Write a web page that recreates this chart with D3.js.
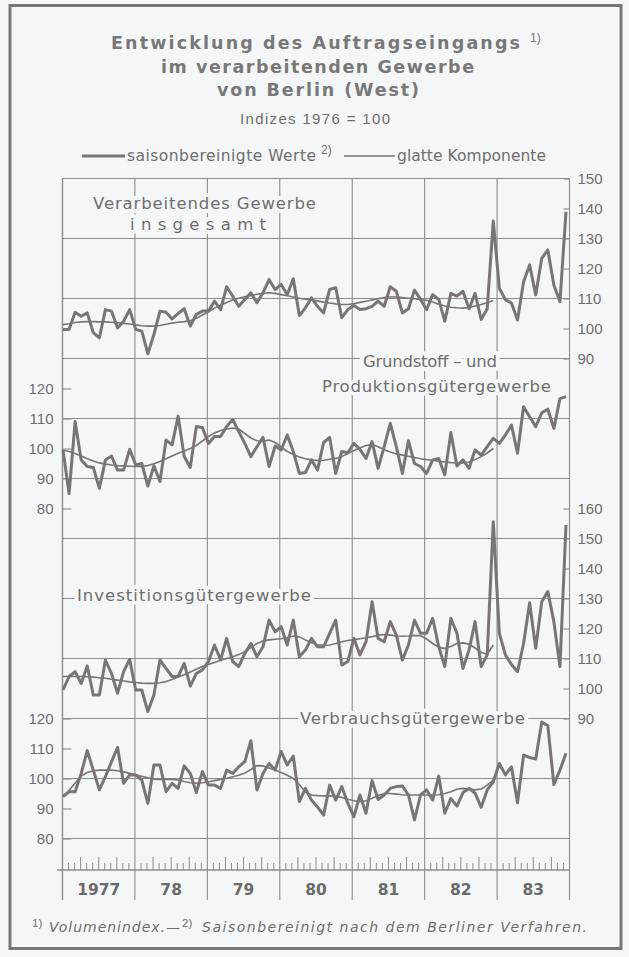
<!DOCTYPE html>
<html><head><meta charset="utf-8">
<script src="https://cdn.jsdelivr.net/npm/d3@7"></script>
<style>body{margin:0;background:#f5f6f7}svg{display:block}</style>
</head><body><svg id="c" width="629" height="957"></svg>
<script>
// ---------- DATA ----------
const years = ["1977","78","79","80","81","82","83"];
const monthIdx = d3.range(years.length * 12);

const ticksGesamt = [150,140,130,120,110,100,90];
const ticksGrund = [120,110,100,90,80];
const ticksInvest = [160,150,140,130,120,110,100,90];
const ticksVerbrauch = [120,110,100,90,80];

const gesamtRaw = [99.7,99.7,105.4,104.1,105.2,98.6,96.9,106.3,105.8,100.2,102.4,106.3,
 99.7,99.1,91.6,98.0,105.8,105.4,103.2,105.0,106.6,100.8,104.7,105.8,
 105.8,109.1,106.3,113.9,110.8,107.4,109.7,111.9,108.6,111.9,116.3,113.0,
 114.7,111.3,116.6,104.3,106.9,110.2,107.4,105.2,113.0,113.6,103.6,106.3,
 107.7,106.3,106.6,107.4,109.1,107.4,113.9,112.4,105.2,106.6,112.8,109.7,
 106.3,111.3,109.7,102.4,111.7,110.8,112.4,106.6,111.7,103.0,106.6,135.8,
 113.4,109.6,108.5,102.8,115.6,121.2,111.2,123.4,126.2,114.5,108.9,138.9];
const gesamtSmooth = [101.3,101.6,102.0,102.2,102.3,102.3,102.2,102.2,102.1,101.9,101.7,101.5,
 101.2,100.9,100.8,100.8,101.0,101.4,101.8,102.1,102.3,102.6,103.4,104.5,
 105.6,106.8,107.8,108.7,109.5,110.1,110.6,111.0,111.4,111.7,111.9,111.7,
 111.3,110.9,110.5,110.1,109.8,109.5,109.2,108.8,108.5,108.2,108.0,108.0,
 108.3,108.7,109.1,109.5,109.9,110.3,110.5,110.5,110.3,110.1,109.9,109.6,
 109.4,108.8,108.1,107.5,107.1,106.9,106.8,107.0,107.5,108.0,108.6,109.3];

const grundRaw = [99.5,85.0,109.0,96.2,94.0,93.7,86.7,96.2,97.5,92.8,92.8,99.7,
 94.5,95.0,87.5,94.2,89.0,102.8,101.2,110.8,97.3,93.7,107.3,107.0,
 101.7,104.0,104.0,107.3,109.7,105.6,101.7,97.3,100.6,103.7,94.0,100.8,
 99.5,104.5,99.0,91.7,92.0,96.2,92.8,102.0,103.7,91.7,99.0,98.6,
 101.7,99.7,96.7,102.3,93.4,100.6,108.4,100.6,91.7,102.6,95.0,94.0,
 91.7,96.2,96.7,91.2,105.3,94.2,96.2,93.4,99.5,97.8,100.6,103.4,
 101.7,104.5,107.8,98.4,113.9,110.6,107.3,111.9,113.1,106.7,116.6,117.3];
const grundSmooth = [99.5,99.0,98.3,97.5,96.6,95.8,95.2,94.8,94.5,94.3,94.2,94.1,
 94.0,94.0,94.3,94.9,95.7,96.6,97.5,98.4,99.2,100.0,101.0,102.5,
 104.0,105.2,106.0,106.5,106.8,106.5,105.0,103.5,102.6,102.5,102.8,102.0,
 100.5,99.0,98.0,97.2,96.6,96.2,96.0,96.1,96.4,96.7,97.3,98.3,
 99.3,100.2,101.0,101.3,100.6,99.6,98.8,98.2,97.8,97.4,97.0,96.6,
 96.3,96.1,95.8,95.5,95.3,95.2,95.2,95.5,96.3,97.3,98.5,100.0];

const investRaw = [99.5,104.0,105.6,101.7,107.5,97.8,97.8,109.5,105.0,98.4,105.6,109.7,
 99.5,99.5,92.3,97.8,109.5,106.7,104.0,104.0,108.4,100.8,105.0,106.2,
 109.0,114.5,109.5,116.7,109.0,107.3,111.7,115.0,110.6,113.9,122.8,118.9,
 120.6,114.5,122.8,110.6,112.8,116.7,113.9,113.9,118.4,122.8,107.8,109.0,
 116.7,111.2,115.6,128.9,116.7,115.6,122.3,117.8,109.5,114.5,122.8,118.4,
 118.4,123.4,113.9,107.3,123.4,118.4,106.7,112.8,122.3,107.3,111.2,155.6,
 118.4,111.2,108.0,105.6,115.0,128.6,113.4,128.9,132.3,122.3,107.3,154.5];
const investSmooth = [104.0,104.0,104.0,104.0,103.9,103.8,103.6,103.4,103.1,102.8,102.5,102.2,
 102.0,101.8,101.7,101.7,101.9,102.3,103.0,103.8,104.6,105.5,106.4,107.3,
 108.0,108.7,109.4,110.0,110.6,111.3,112.3,113.6,115.0,115.8,116.2,116.4,
 116.6,117.0,117.5,117.2,116.2,115.3,114.6,114.4,114.5,115.0,115.6,116.0,
 116.3,116.6,116.9,117.3,117.8,118.0,117.8,117.5,117.4,117.5,117.7,117.6,
 116.5,115.0,113.8,113.3,114.0,115.0,115.2,114.8,113.5,112.0,111.4,114.5];

const verbrauchRaw = [94.0,95.6,95.6,101.7,109.3,102.8,96.2,100.6,105.6,110.4,98.4,101.2,
 101.2,99.5,91.7,104.5,104.5,95.6,98.4,96.7,104.2,101.7,95.3,102.3,
 97.8,97.8,96.7,102.8,101.7,103.9,105.6,112.6,96.2,101.7,105.0,102.8,
 109.0,104.5,107.5,92.3,96.7,92.8,90.5,87.8,97.8,92.8,97.3,91.7,
 87.3,94.5,88.4,99.3,93.0,94.5,96.7,97.3,97.5,94.5,86.2,94.5,
 96.2,92.8,100.8,88.4,93.4,90.8,95.3,96.7,95.1,90.4,96.2,98.9,
 105.0,101.2,103.9,91.9,107.8,107.0,106.5,118.8,117.6,98.0,102.8,108.4];
const verbrauchSmooth = [94.0,96.0,98.5,100.8,102.0,102.6,102.8,102.8,102.8,102.6,102.2,101.7,
 101.2,100.7,100.2,99.8,99.7,99.7,99.7,99.5,99.0,98.6,98.4,98.6,
 98.9,99.3,99.7,100.1,100.6,101.1,101.8,103.0,104.3,104.2,103.5,102.8,
 102.0,101.1,100.0,98.0,95.5,94.5,94.3,94.2,94.2,94.1,93.7,93.1,
 92.6,92.3,92.6,93.4,94.3,95.0,95.0,94.8,94.6,94.5,94.5,94.5,
 94.5,94.5,94.6,95.0,95.6,96.4,96.7,96.5,96.2,96.5,97.8,99.5];

// ---------- STYLE / LAYOUT ----------
const COL = {bg:"#f5f6f7", line:"#7a7474", grid:"#8c8c8c", text:"#6e6e6e", frame:"#7a7676"};
const SANS = "Liberation Sans, Arial, sans-serif";
const WIDE = "DejaVu Sans, sans-serif";
const X0 = 62.5, X1 = 569.5;
const svg = d3.select("#c");
svg.append("rect").attr("width",629).attr("height",957).attr("fill",COL.bg);
svg.append("rect").attr("x",10).attr("y",5.5).attr("width",611).attr("height",943)
  .attr("fill","none").attr("stroke",COL.frame).attr("stroke-width",3);

const x = d3.scalePoint().domain(monthIdx).range([63, 566]);
const xYear = d3.scaleBand().domain(years).range([X0, X1]);
const yw = xYear.bandwidth();

const panels = [
  {raw:gesamtRaw, smooth:gesamtSmooth, ticks:ticksGesamt, grid:[150,130,110,90],
   y:d3.scaleLinear().domain([90,150]).range([358.5,178.5]), side:"right"},
  {raw:grundRaw, smooth:grundSmooth, ticks:ticksGrund, grid:[110,90],
   y:d3.scaleLinear().domain([80,120]).range([508.5,388.5]), side:"left"},
  {raw:investRaw, smooth:investSmooth, ticks:ticksInvest, grid:[150,130,110,90],
   y:d3.scaleLinear().domain([90,160]).range([718.5,508.5]), side:"right"},
  {raw:verbrauchRaw, smooth:verbrauchSmooth, ticks:ticksVerbrauch, grid:[100,80],
   y:d3.scaleLinear().domain([80,120]).range([838.5,718.5]), side:"left"}
];

// gridlines
const gGrid = svg.append("g").attr("stroke",COL.grid).attr("stroke-width",1.1);
panels.forEach(p => {
  p.grid.forEach(v => gGrid.append("line").attr("x1",X0).attr("x2",X1)
    .attr("y1",p.y(v)).attr("y2",p.y(v)));
});
years.forEach(yr => {
  gGrid.append("line").attr("x1",xYear(yr)).attr("x2",xYear(yr)).attr("y1",178.5).attr("y2",900);
});
gGrid.append("line").attr("x1",X1).attr("x2",X1).attr("y1",178.5).attr("y2",900);
gGrid.append("line").attr("x1",57).attr("x2",X1).attr("y1",870).attr("y2",870).attr("stroke-width",1.4);
years.forEach(yr => {
  for (let m = 1; m < 12; m++) {
    const xx = xYear(yr) + m * yw / 12;
    const h = m % 3 === 0 ? 13 : 7;
    gGrid.append("line").attr("x1",xx).attr("x2",xx).attr("y1",870).attr("y2",870-h).attr("stroke-width",1);
  }
});

// panel labels: halo copy knocks out the grid, then the text on top
function label(txt, xx, yy, len) {
  [true,false].forEach(halo => {
    const t = svg.append("text").attr("x",xx).attr("y",yy).text(txt)
      .style("font-family",WIDE).style("font-size","16.5px")
      .attr("textLength",len).attr("lengthAdjust","spacing");
    if (halo) t.attr("fill",COL.bg).attr("stroke",COL.bg).attr("stroke-width",8).attr("stroke-linejoin","round");
    else t.attr("fill",COL.text);
  });
}
label("Verarbeitendes Gewerbe", 93, 209, 223);
label("insgesamt", 130, 230, 136);
label("Grundstoff – und", 363, 367, 134);
label("Produktionsgütergewerbe", 322, 392, 229);
label("Investitionsgütergewerbe", 77, 601, 234);
label("Verbrauchsgütergewerbe", 300, 724, 225);

// axes
panels.forEach(p => {
  const ax = (p.side === "right" ? d3.axisRight(p.y).tickSizeInner(-6).tickPadding(8)
                                 : d3.axisLeft(p.y).tickSizeInner(-9).tickPadding(9))
    .tickValues(p.ticks).tickSizeOuter(0).tickFormat(d3.format("d"));
  const g = svg.append("g").attr("transform",`translate(${p.side==="right"?X1:X0},0)`).call(ax);
  g.select(".domain").remove();
  g.selectAll(".tick line").attr("stroke",COL.grid).attr("stroke-width",1.1);
  g.selectAll(".tick text").attr("fill",COL.text).style("font-family",SANS).style("font-size","15px");
});
svg.append("line").attr("x1",X0).attr("x2",X0).attr("y1",178.5).attr("y2",900).attr("stroke",COL.grid).attr("stroke-width",1.3);

// series
panels.forEach(p => {
  const ln = d3.line().x((d,i) => x(i)).y(d => p.y(d));
  svg.append("path").datum(p.smooth).attr("d",ln).attr("fill","none")
    .attr("stroke",COL.line).attr("stroke-width",1.6).attr("stroke-linejoin","round");
  svg.append("path").datum(p.raw).attr("d",ln).attr("fill","none")
    .attr("stroke",COL.line).attr("stroke-width",3).attr("stroke-linejoin","round");
});

// year labels
svg.append("g").selectAll("text").data(years).join("text")
  .attr("x",d => xYear(d) + yw/2).attr("y",894.5).attr("text-anchor","middle").text(d=>d)
  .attr("fill","#6a6a6a").style("font-family",WIDE).style("font-weight","bold").style("font-size","15.5px");

// titles, legend, footnote
function txt(s, xx, yy, size, opts={}) {
  const t = svg.append("text").attr("x",xx).attr("y",yy).text(s).attr("fill",opts.fill||COL.text)
    .style("font-family",opts.family||WIDE).style("font-size",size+"px");
  if (opts.bold) t.style("font-weight","bold");
  if (opts.italic) t.style("font-style","italic");
  if (opts.len) t.attr("textLength",opts.len).attr("lengthAdjust","spacing");
  return t;
}
const TC = "#787878";
txt("Entwicklung des Auftragseingangs", 111, 49, 17.5, {bold:true, len:409, fill:TC});
txt("1)", 530, 42, 12, {fill:TC, family:SANS});
txt("im verarbeitenden Gewerbe", 161, 73, 17.5, {bold:true, len:313, fill:TC});
txt("von Berlin (West)", 217, 96, 17.5, {bold:true, len:202, fill:TC});
txt("Indizes  1976 = 100", 240, 123.5, 15, {len:150, family:SANS});
svg.append("line").attr("x1",82).attr("x2",125).attr("y1",156).attr("y2",156).attr("stroke",COL.line).attr("stroke-width",3);
txt("saisonbereinigte Werte", 127, 161, 15.5, {len:189});
txt("2)", 321, 154, 12, {family:SANS});
svg.append("line").attr("x1",344).attr("x2",395).attr("y1",156).attr("y2",156).attr("stroke",COL.line).attr("stroke-width",1.5);
txt("glatte Komponente", 397, 161, 15.5, {len:149});

txt("1)", 32, 927, 11.5, {family:SANS});
txt("Volumenindex.—", 49, 932, 14, {italic:true, len:131});
txt("2)", 182, 927, 11.5, {family:SANS});
txt("Saisonbereinigt  nach dem Berliner Verfahren.", 202, 932, 14, {italic:true, len:385});
</script></body></html>
